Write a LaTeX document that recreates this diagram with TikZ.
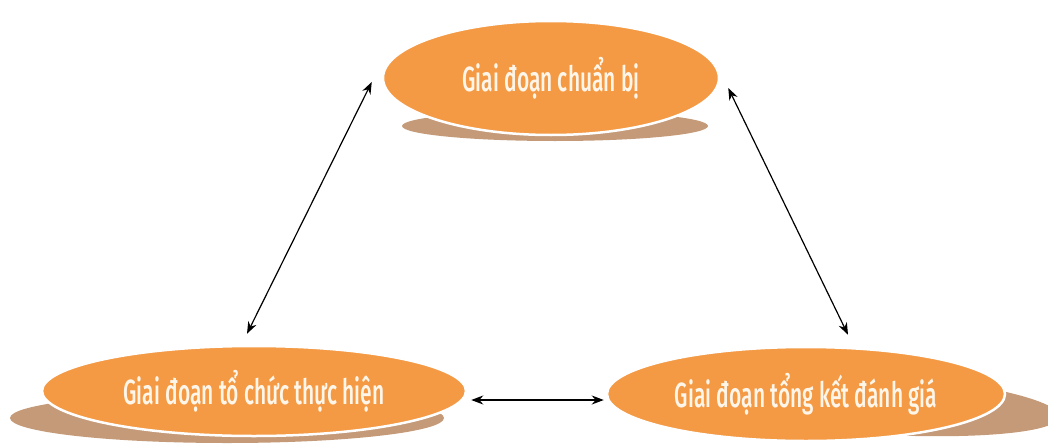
\documentclass[tikz,border=0pt]{standalone}
\usepackage{fontspec}
\setmainfont{Fira Sans}
\newfontfamily\phasefont{Fira Sans}[UprightFont={* Medium}]
\usetikzlibrary{shapes.geometric,arrows.meta}
\definecolor{phase}{HTML}{F49A45}
\definecolor{shade}{HTML}{C49A78}
\definecolor{txt}{HTML}{FFF6EA}
\tikzset{
  phasebox/.style={ellipse, fill=phase, draw=white, line width=2.5pt, inner sep=0pt,
    text=txt, font=\fontsize{35}{35}\phasefont},
  shadebox/.style={ellipse, fill=shade, draw=none, inner sep=0pt},
  link/.style={{Stealth[length=12pt,width=9pt]}-{Stealth[length=12pt,width=9pt]}, line width=1.2pt, black},
}
\newcommand{\narrowtxt}[1]{\raisebox{6pt}{\scalebox{0.6}[1]{#1}}}
\begin{document}
\begin{tikzpicture}[x=1pt,y=-1pt]
\useasboundingbox (0,0) rectangle (1048,444);
% shadows
\node[shadebox, minimum width=306, minimum height=30] (prepshade) at (555,126) {};
\node[shadebox, minimum width=434, minimum height=50] (implshade) at (227,418) {};
\node[shadebox, minimum width=420, minimum height=62, rotate=-4] (evalshade) at (850,402) {};
% phases
\node[phasebox, minimum width=336, minimum height=114] (prep) at (551,78) {\narrowtxt{Giai đoạn chuẩn bị}};
\node[phasebox, minimum width=424, minimum height=90] (impl) at (254,391) {\narrowtxt{Giai đoạn tổ chức thực hiện}};
\node[phasebox, minimum width=398, minimum height=94] (eval) at (806,394) {\narrowtxt{Giai đoạn tổng kết đánh giá}};
% links
\draw[link] ([xshift=-10pt,yshift=-4pt]prep.west) -- ([xshift=-7pt,yshift=11pt]impl.north);
\draw[link] ([xshift=8pt,yshift=-10pt]prep.east) -- ([xshift=42pt,yshift=11pt]eval.north);
\draw[link] ([xshift=4pt,yshift=-9pt]impl.east) -- ([xshift=-2pt,yshift=-6pt]eval.west);
\end{tikzpicture}
\end{document}
